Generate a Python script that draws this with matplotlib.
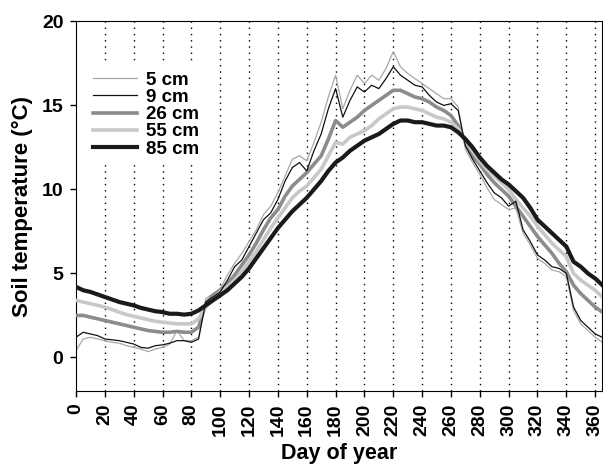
import matplotlib
matplotlib.use("Agg")
import matplotlib.pyplot as plt

plt.rcParams['font.family'] = ['Liberation Sans', 'DejaVu Sans']
plt.rcParams['font.weight'] = 'bold'

# day of year, sampled every 5 days
days = [0, 5, 10, 15, 20, 25, 30, 35, 40, 45, 50, 55, 60, 65, 70, 75, 80, 85,
        90, 95, 100, 105, 110, 115, 120, 125, 130, 135, 140, 145, 150, 155,
        160, 165, 170, 175, 180, 185, 190, 195, 200, 205, 210, 215, 220, 225,
        230, 235, 240, 245, 250, 255, 260, 265, 270, 275, 280, 285, 290, 295,
        300, 305, 310, 315, 320, 325, 330, 335, 340, 345, 350, 355, 360, 365]

t5 = [0.4, 1.1, 1.2, 1.1, 1.0, 0.9, 0.85, 0.7, 0.6, 0.5, 0.35, 0.5, 0.6, 0.8,
      1.6, 1.0, 1.0, 1.2, 3.5, 3.8, 4.1, 4.9, 5.6, 6.2, 6.9, 7.6, 8.5, 9.0,
      9.8, 10.8, 11.8, 12.0, 11.7, 12.8, 14.0, 15.5, 16.8, 14.8, 15.9, 16.8,
      16.3, 16.8, 16.5, 17.2, 18.2, 17.3, 16.9, 16.6, 16.3, 16.0, 15.7, 15.4,
      15.4, 14.9, 12.4, 11.6, 10.9, 10.1, 9.4, 9.1, 8.8, 8.9, 7.4, 6.7, 5.9,
      5.6, 5.2, 5.1, 4.8, 2.8, 2.0, 1.6, 1.2, 0.9]

t9 = [1.2, 1.5, 1.4, 1.3, 1.1, 1.05, 1.0, 0.9, 0.8, 0.6, 0.55, 0.7, 0.75,
      0.85, 1.0, 1.0, 0.9, 1.1, 3.3, 3.6, 3.9, 4.6, 5.4, 5.8, 6.6, 7.4, 8.2,
      8.6, 9.4, 10.5, 11.3, 11.6, 11.1, 12.3, 13.3, 14.8, 16.0, 14.3, 15.3,
      16.1, 15.8, 16.2, 16.0, 16.6, 17.3, 16.8, 16.5, 16.2, 16.1, 15.6, 15.2,
      15.0, 15.1, 14.7, 12.6, 11.8, 11.1, 10.4, 9.8, 9.5, 9.0, 9.3, 7.6, 6.9,
      6.1, 5.8, 5.4, 5.3, 5.0, 3.0, 2.2, 1.8, 1.4, 1.2]

t26 = [2.5, 2.5, 2.4, 2.3, 2.2, 2.1, 2.0, 1.9, 1.8, 1.7, 1.6, 1.55, 1.5, 1.5,
       1.55, 1.5, 1.5, 1.8, 3.2, 3.7, 4.0, 4.4, 4.9, 5.5, 6.1, 6.8, 7.6, 8.3,
       8.8, 9.6, 10.2, 10.6, 11.0, 11.5, 12.0, 13.0, 14.1, 13.7, 14.0, 14.3,
       14.7, 15.0, 15.3, 15.6, 15.9, 15.9, 15.7, 15.5, 15.4, 15.2, 14.9, 14.7,
       14.4, 13.8, 12.8, 12.0, 11.5, 10.9, 10.4, 10.0, 9.6, 9.0, 8.4, 7.8,
       7.2, 6.7, 6.2, 5.6, 5.1, 4.3, 3.8, 3.4, 3.0, 2.7]

t55 = [3.4, 3.3, 3.2, 3.1, 3.0, 2.85, 2.7, 2.55, 2.45, 2.35, 2.25, 2.15, 2.1,
       2.05, 2.0, 2.0, 2.0, 2.3, 3.0, 3.5, 3.9, 4.2, 4.6, 5.1, 5.7, 6.3, 7.0,
       7.7, 8.3, 8.9, 9.5, 9.9, 10.2, 10.7, 11.2, 12.0, 12.8, 12.7, 13.1,
       13.3, 13.5, 13.8, 14.2, 14.5, 14.8, 14.9, 14.9, 14.8, 14.7, 14.5, 14.3,
       14.2, 14.0, 13.6, 12.9, 12.3, 11.7, 11.2, 10.8, 10.4, 10.0, 9.4, 8.9,
       8.4, 7.8, 7.3, 6.8, 6.4, 6.0, 5.0, 4.6, 4.3, 4.0, 3.6]

t85 = [4.2, 4.0, 3.9, 3.75, 3.6, 3.45, 3.3, 3.2, 3.1, 2.95, 2.85, 2.75, 2.7,
       2.6, 2.6, 2.55, 2.6, 2.8, 3.1, 3.4, 3.7, 4.0, 4.4, 4.8, 5.3, 5.9, 6.5,
       7.1, 7.7, 8.2, 8.7, 9.1, 9.5, 10.0, 10.5, 11.1, 11.6, 11.9, 12.3, 12.6,
       12.9, 13.1, 13.3, 13.6, 13.9, 14.1, 14.1, 14.0, 14.0, 13.9, 13.8, 13.8,
       13.7, 13.4, 13.0, 12.5, 11.9, 11.4, 11.0, 10.6, 10.3, 9.9, 9.5, 8.9,
       8.2, 7.8, 7.4, 7.0, 6.6, 5.7, 5.4, 5.0, 4.7, 4.3]

fig = plt.figure(figsize=(6.03, 4.65), dpi=100)
ax = fig.add_axes([0.126, 0.159, 0.873, 0.795])

l5, = ax.plot(days, t5, color='#a8a8a8', lw=0.9, label='5 cm', zorder=2)
l26, = ax.plot(days, t26, color='#8c8c8c', lw=2.6, label='26 cm', zorder=3)
l55, = ax.plot(days, t55, color='#c8c8c8', lw=2.6, label='55 cm', zorder=4)
l9, = ax.plot(days, t9, color='#111111', lw=0.9, label='9 cm', zorder=5)
l85, = ax.plot(days, t85, color='#1a1a1a', lw=3.0, label='85 cm', zorder=6)

ax.set_xlim(0, 365)
ax.set_ylim(-2, 20)
ax.set_xticks(range(0, 361, 20))
ax.set_yticks([0, 5, 10, 15, 20])
ax.tick_params(direction='out', length=4, width=1, pad=5, labelsize=14)
plt.setp(ax.get_xticklabels(), rotation=90)

for d in range(20, 361, 20):
    ax.axvline(d, color='black', lw=1.0, ls=(0, (1, 3.5)), zorder=1)

ax.set_xlabel('Day of year', fontsize=15.5, fontweight='bold', labelpad=5)
ax.set_ylabel('Soil temperature (°C)', fontsize=16, fontweight='bold',
              labelpad=6)

leg = ax.legend(handles=[l5, l9, l26, l55, l85], loc='upper left',
                bbox_to_anchor=(0.019, 0.885), borderaxespad=0, fontsize=13.5,
                handlelength=2.3, handletextpad=0.5, labelspacing=0.01,
                frameon=True, fancybox=False)
leg.get_frame().set_edgecolor('none')
leg.get_frame().set_facecolor('white')
leg.get_frame().set_alpha(1)
leg.set_zorder(10)

fig.savefig('out.png', dpi=100)
